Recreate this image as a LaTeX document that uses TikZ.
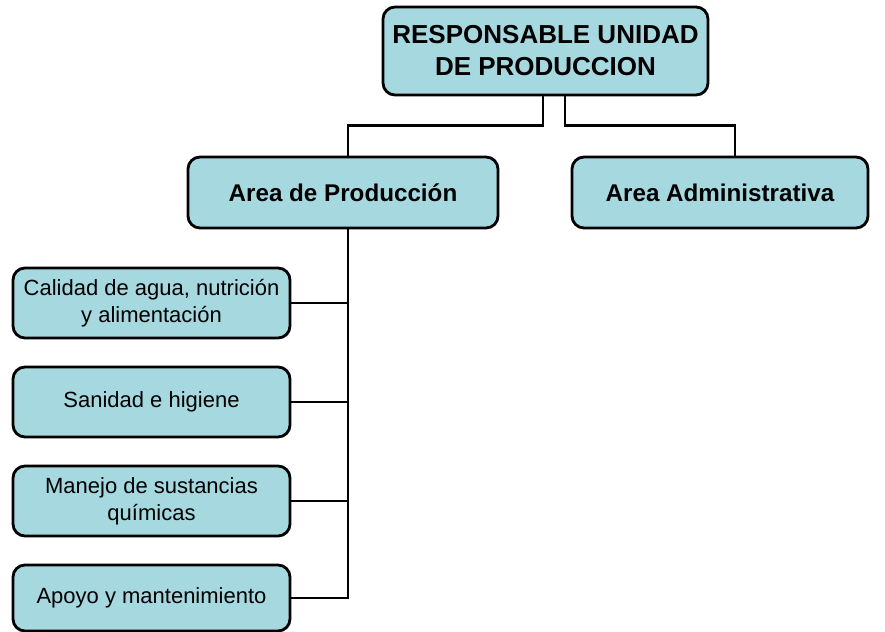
\documentclass[tikz,border=0pt]{standalone}
\usepackage{fontspec}
\setmainfont{Liberation Sans}
\definecolor{boxblue}{RGB}{166,216,224}

\begin{document}
\begin{tikzpicture}[x=1pt,y=-1pt,
  caja/.style={draw=black,line width=2.8pt,fill=boxblue,rounded corners=12pt,align=center,inner sep=0pt},
  enlace/.style={draw=black,line width=2.8pt}]
\useasboundingbox (0,0) rectangle (885,631);
\node[caja,minimum width=325pt,minimum height=88pt,font=\fontsize{26}{32}\selectfont\bfseries] (resp) at (545.5,51) {RESPONSABLE UNIDAD\\DE PRODUCCION};
\node[caja,minimum width=310pt,minimum height=71pt,font=\fontsize{24.2}{28}\selectfont\bfseries] (prod) at (343,192.5) {Area de Producción};
\node[caja,minimum width=296pt,minimum height=71pt,font=\fontsize{24.2}{28}\selectfont\bfseries] (admin) at (720,192.5) {Area Administrativa};
\node[caja,minimum width=277pt,minimum height=70pt,font=\fontsize{22}{27}\selectfont] (calidad) at (151.5,303) {Calidad de agua, nutrición\\y alimentación};
\node[caja,minimum width=277pt,minimum height=70pt,font=\fontsize{22}{27}\selectfont] (sanidad) at (151.5,402) {Sanidad e higiene};
\node[caja,minimum width=277pt,minimum height=70pt,font=\fontsize{22}{27}\selectfont] (manejo) at (151.5,501) {Manejo de sustancias\\químicas};
\node[caja,minimum width=277pt,minimum height=66pt,font=\fontsize{22}{27}\selectfont] (apoyo) at (151.5,598) {Apoyo y mantenimiento};
% conectores
\draw[enlace] ([xshift=-2.5pt]resp.south) |- ([xshift=5pt,yshift=30pt]prod.north) -- ([xshift=5pt]prod.north);
\draw[enlace] ([xshift=19.5pt]resp.south) |- ([xshift=15pt,yshift=30pt]admin.north) -- ([xshift=15pt]admin.north);
\coordinate (bus) at ([xshift=5pt]prod.south);
\draw[enlace] (bus) |- (apoyo.east);
\foreach \n in {calidad,sanidad,manejo}
  \draw[enlace] (\n.east) -- (\n.east -| bus);
\end{tikzpicture}
\end{document}
